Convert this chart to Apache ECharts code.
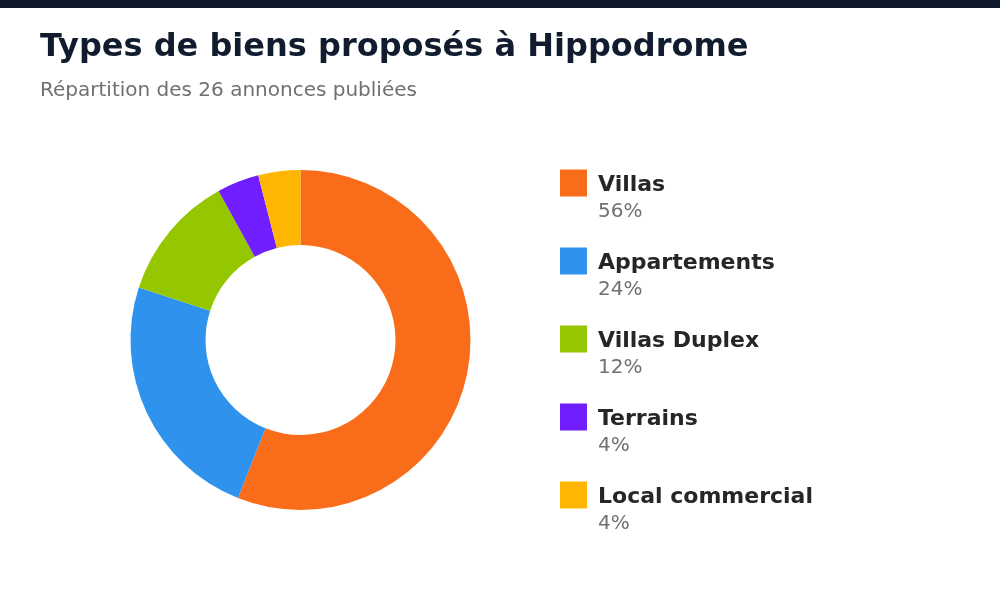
<!DOCTYPE html>
<html>
<head>
<meta charset="utf-8">
<script src="https://cdn.jsdelivr.net/npm/echarts@6/dist/echarts.min.js"></script>
<style>
  html, body { margin: 0; padding: 0; background: #fff; }
  #main { width: 1000px; height: 600px; }
</style>
</head>
<body>
<div id="main"></div>
<script>
// données
var types = ['Villas', 'Appartements', 'Villas Duplex', 'Terrains', 'Local commercial'];
var annonces = [14, 6, 3, 1, 1];
var couleurs = ['#F96C1A', '#2F93EE', '#95C701', '#701EFE', '#FFB602'];

var total = annonces.reduce(function (a, b) { return a + b; }, 0);
var pieData = [];
for (var i = 0; i < types.length; i++) {
    pieData.push({ name: types[i], value: annonces[i], itemStyle: { color: couleurs[i] } });
}

var chart = echarts.init(document.getElementById('main'));
var option = {
    backgroundColor: '#fff',
    animation: false,
    graphic: [{
        type: 'rect',
        left: 0, top: 0,
        shape: { width: 1000, height: 8 },
        style: { fill: '#0F1B2D' }
    }],
    title: {
        text: 'Types de biens proposés à Hippodrome',
        subtext: 'Répartition des 26 annonces publiées',
        left: 35,
        top: 27,
        itemGap: 17,
        textStyle: {
            color: '#111C2E',
            fontSize: 32,
            fontWeight: 'bold',
            fontFamily: 'DejaVu Sans'
        },
        subtextStyle: {
            color: '#707070',
            fontSize: 20,
            fontFamily: 'DejaVu Sans'
        }
    },
    legend: {
        orient: 'vertical',
        left: 555,
        top: 146,
        itemWidth: 27,
        itemHeight: 27,
        itemGap: 7,
        icon: 'rect',
        selectedMode: false,
        formatter: function (name) {
            var idx = types.indexOf(name);
            var pct = Math.round(annonces[idx] / total * 100);
            return '{e| }\n{n|' + name + '}\n{p|' + pct + '%}';
        },
        textStyle: {
            padding: [0, 0, 0, 6],
            rich: {
                e: { fontSize: 10, lineHeight: 30 },
                n: { fontSize: 22, fontWeight: 'bold', color: '#262626', lineHeight: 28, fontFamily: 'DejaVu Sans' },
                p: { fontSize: 20, color: '#707070', lineHeight: 26, fontFamily: 'DejaVu Sans' }
            }
        }
    },
    series: [{
        type: 'pie',
        center: [300.5, 340],
        radius: [95, 170],
        startAngle: 90,
        clockwise: true,
        label: { show: false },
        labelLine: { show: false },
        emphasis: { disabled: true },
        itemStyle: { borderWidth: 0 },
        data: pieData
    }]
};
chart.setOption(option);
</script>
</body>
</html>
